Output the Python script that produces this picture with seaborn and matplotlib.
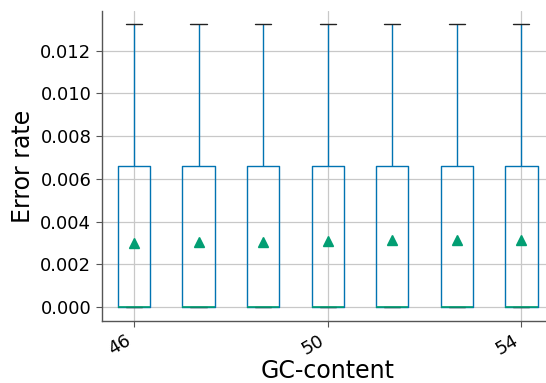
import numpy as np
import pandas as pd
import matplotlib
matplotlib.use("Agg")
import matplotlib.pyplot as plt
import matplotlib.colors as mcolors
import seaborn as sns

# Data: per-GC-bin counts of reads with 0, 1 and 2 errors (read length 151)
gc_bins = ["46", "47", "48", "50", "51", "52", "54"]
read_length = 151
n_zero = [607, 604, 599, 596, 589, 586, 585]
n_one = [333, 336, 341, 344, 351, 354, 355]
n_two = [60, 60, 60, 60, 60, 60, 60]
tick_positions = [0, 3, 6]
tick_labels = ["46", "50", "54"]

rows = []
for g, a, b, c in zip(gc_bins, n_zero, n_one, n_two):
    vals = np.repeat([0.0, 1.0 / read_length, 2.0 / read_length], [a, b, c])
    rows.append(pd.DataFrame({"GC-content": g, "Error rate": vals}))
df = pd.concat(rows, ignore_index=True)

sns.set_style("ticks")
plt.rcParams["font.family"] = ["DejaVu Sans"]
plt.rcParams["text.color"] = "black"
plt.rcParams["axes.labelcolor"] = "black"
plt.rcParams["xtick.color"] = "black"
plt.rcParams["ytick.color"] = "black"

blue = "#0173b2"
green = "#029e73"

fig = plt.figure(figsize=(5.46, 3.83), dpi=100)
ax = fig.add_axes([101.7 / 546, 1 - 321 / 383, 7 * 64.57 / 546, (321 - 11) / 383])

sns.boxplot(
    data=df, x="GC-content", y="Error rate", order=gc_bins, ax=ax,
    fill=False, color=blue, width=0.5, linewidth=1.0,
    showfliers=False, showmeans=True, whis=1.5,
    medianprops=dict(color=green, linewidth=1.2),
    capprops=dict(color="#222222", linewidth=1.0),
    whiskerprops=dict(color=blue, linewidth=1.0),
    boxprops=dict(color=blue, linewidth=1.0),
    meanprops=dict(marker="^", markerfacecolor=green, markeredgecolor=green, markersize=7),
)

green_rgba = mcolors.to_rgba(green)
for ln in ax.lines:
    if mcolors.to_rgba(ln.get_color()) == green_rgba and ln.get_linestyle() != "None":
        ln.set_zorder(5)

ax.set_axisbelow(True)
ax.grid(True, axis="both", color="#c8c8c8", linewidth=0.9)
ax.set_xlim(-0.5, 6.5)
ax.set_ylim(-0.00066, 0.01386)
ax.set_xticks(tick_positions)
ax.set_xticklabels(tick_labels, rotation=30, ha="right")
ax.set_yticks([0, 0.002, 0.004, 0.006, 0.008, 0.010, 0.012])
ax.set_yticklabels(["0.000", "0.002", "0.004", "0.006", "0.008", "0.010", "0.012"])
ax.tick_params(axis="both", labelsize=13, length=4, color="#555555", labelcolor="black")
ax.set_xlabel("GC-content", fontsize=17, color="black", labelpad=0.5)
ax.set_ylabel("Error rate", fontsize=17, color="black")
for s in ["top", "right"]:
    ax.spines[s].set_visible(False)
for s in ["left", "bottom"]:
    ax.spines[s].set_color("#555555")
    ax.spines[s].set_linewidth(1.0)

fig.savefig("out.png", dpi=100)
